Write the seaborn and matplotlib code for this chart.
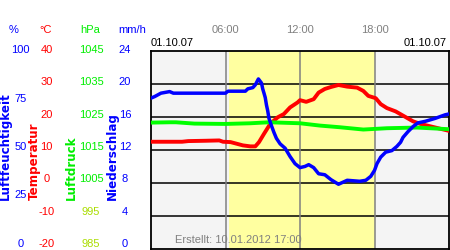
import matplotlib
matplotlib.use("Agg")
import matplotlib.pyplot as plt
import seaborn as sns
import pandas as pd

# ---- data ----
hours_hum = [0, 0.3, 0.8, 1.5, 1.8, 2.0, 6.0, 6.2, 7.6, 7.8, 8.2, 8.4, 8.65, 8.9, 9.0, 9.1,
             9.2, 9.3, 9.4, 9.5, 9.7, 9.9, 10.1, 10.4, 10.8, 11.2, 11.6, 12.0, 12.4, 12.7,
             13.1, 13.5, 14.0, 14.5, 15.1, 15.8, 16.8, 17.3, 17.7, 18.0, 18.2, 18.5, 18.9,
             19.4, 19.8, 20.1, 20.3, 20.7, 21.1, 21.5, 22.1, 22.9, 23.7, 24.0]
humidity = [76.2, 77, 78.7, 79.5, 78.7, 78.7, 78.7, 79.7, 79.7, 80.9, 81.5, 82.9, 85.9, 83.8,
            80.8, 78.7, 76.5, 72.7, 69.8, 66, 62.3, 58.9, 55.9, 53.1, 50.9, 46.7, 43.1, 41.1,
            41.7, 42.6, 41.1, 38, 37.5, 35, 32.7, 34.7, 34.2, 34.7, 36.7, 39.7, 43.1, 46.4,
            48.9, 49.7, 51.8, 53.9, 56.4, 59.3, 61.8, 63.7, 64.5, 66, 67.8, 68.2]

hours_temp = [0, 2.5, 3.0, 4.4, 5.5, 5.8, 6.4, 6.9, 7.4, 8.0, 8.4, 8.7, 9.1, 9.6, 10.2, 10.7,
              11.2, 11.8, 12.0, 12.5, 13.1, 13.5, 14.0, 14.5, 15.1, 15.8, 16.6, 17.1, 17.5,
              18.1, 18.5, 19.0, 19.7, 20.4, 21.1, 21.7, 22.8, 24.0]
temperature = [12.5, 12.5, 12.7, 12.8, 12.9, 12.5, 12.4, 11.9, 11.4, 11.1, 11.1, 12.4, 14.9,
               17.9, 19.9, 20.9, 22.9, 24.4, 25.1, 24.6, 25.4, 27.4, 28.5, 29.1, 29.7, 29.2,
               28.9, 27.9, 26.4, 25.7, 23.9, 22.7, 21.7, 20.2, 18.7, 17.9, 16.9, 15.8]

hours_pres = [0, 1.5, 2.0, 3.5, 6.0, 8.0, 9.5, 12.0, 13.6, 15.2, 17.1, 19.0, 21.4, 24.0]
pressure = [1023.3, 1023.4, 1023.4, 1023.0, 1022.9, 1023.1, 1023.4, 1023.1, 1022.4, 1021.9,
            1021.2, 1021.6, 1021.8, 1021.3]

hum_ticks = [100, 75, 50, 25, 0]
temp_ticks = [40, 30, 20, 10, 0, -10, -20]
pres_ticks = [1045, 1035, 1025, 1015, 1005, 995, 985]
rain_ticks = [24, 20, 16, 12, 8, 4, 0]
time_ticks = ["06:00", "12:00", "18:00"]
date_label = "01.10.07"
created = "Erstellt: 10.01.2012 17:00"

BLUE = "#0000ff"
RED = "#ff0000"
GREEN = "#00ee00"
GREEN2 = "#aadd00"

plt.rcParams["font.family"] = ["Liberation Sans", "DejaVu Sans"]

W, H = 450, 250
fig = plt.figure(figsize=(4.5, 2.5), dpi=100)
left, right, top, bottom = 151, 449, 51, 249
ax = fig.add_axes([left / W, 1 - bottom / H, (right - left) / W, (bottom - top) / H])
ax.set_xlim(0, 24)
ax.set_ylim(0, 100)
ax.set_facecolor("#f4f4f4")
ax.axvspan(6.3, 18.0, color="#ffffa0", lw=0, zorder=0)
for k in range(1, 6):
    ax.axhline(k * 100 / 6, color="black", lw=1.1, zorder=1)
for xv in [6, 12, 18]:
    ax.axvline(xv, color="#808080", lw=1.1, zorder=1)
for s in ax.spines.values():
    s.set_color("black")
    s.set_linewidth(1.3)
ax.set_xticks([]); ax.set_yticks([])
ax.set_xlabel(""); ax.set_ylabel("")

def twin(lo, hi):
    a = ax.twinx()
    a.set_ylim(lo, hi)
    a.set_xlim(0, 24)
    a.set_yticks([]); a.set_xticks([])
    for s in a.spines.values():
        s.set_visible(False)
    return a

ax_t = twin(-20, 40)
ax_p = twin(985, 1045)
ax_h = twin(0, 100)

sns.lineplot(x=hours_temp, y=temperature, ax=ax_t, color=RED, lw=2.8, legend=False)
sns.lineplot(x=hours_pres, y=pressure, ax=ax_p, color="#00ff00", lw=2.8, legend=False)
sns.lineplot(x=hours_hum, y=humidity, ax=ax_h, color=BLUE, lw=2.5, legend=False)
for a in (ax_t, ax_p, ax_h):
    a.set_xlabel(""); a.set_ylabel("")
    a.set_xlim(0, 24)
ax_t.set_ylim(-20, 40); ax_p.set_ylim(985, 1045); ax_h.set_ylim(0, 100)

ax.text(0.08, 0.045, created, transform=ax.transAxes, color="#808080", fontsize=8,
        ha="left", va="center", zorder=5)

def ft(x, y, s, **kw):
    fig.text(x / W, 1 - y / H, s, **kw)

# header units
ft(14, 30, "%", color=BLUE, fontsize=8, ha="center", va="center")
ft(46, 30, "°C", color=RED, fontsize=8, ha="center", va="center")
ft(90, 30, "hPa", color=GREEN, fontsize=8, ha="center", va="center")
ft(132, 30, "mm/h", color=BLUE, fontsize=8, ha="center", va="center")

# tick label columns
y0, y1 = 50, 244
def ypos(v, lo, hi):
    return y1 - (v - lo) / (hi - lo) * (y1 - y0)

for v in hum_ticks:
    ft(20.5, ypos(v, 0, 100), str(v), color=BLUE, fontsize=8, ha="center", va="center")
for v in temp_ticks:
    ft(46.5, ypos(v, -20, 40), str(v), color=RED, fontsize=8, ha="center", va="center")
for v in pres_ticks:
    ft(91, ypos(v, 985, 1045), str(v), color=GREEN if v >= 1005 else GREEN2, fontsize=8,
       ha="center", va="center")
for v in rain_ticks:
    ft(125, ypos(v, 0, 24), str(v), color=BLUE, fontsize=8, ha="center", va="center")

# rotated titles
rot = dict(rotation=90, ha="center", va="bottom", fontsize=8.6, fontweight="bold",
           family="DejaVu Sans")
ft(5.5, 200, "Luftfeuchtigkeit", color=BLUE, **rot)
ft(34.0, 200, "Temperatur", color=RED, **rot)
ft(71.5, 200, "Luftdruck", color=GREEN, **rot)
ft(112.5, 200, "Niederschlag", color=BLUE, **rot)

# time labels
for i, lab in enumerate(time_ticks):
    xpix = left + (6 * (i + 1)) / 24 * (right - left)
    ft(xpix, 30, lab, color="#808080", fontsize=8, ha="center", va="center")
ft(151, 43, date_label, color="black", fontsize=8, ha="left", va="center")
ft(447, 43, date_label, color="black", fontsize=8, ha="right", va="center")

fig.savefig("out.png", dpi=100)
